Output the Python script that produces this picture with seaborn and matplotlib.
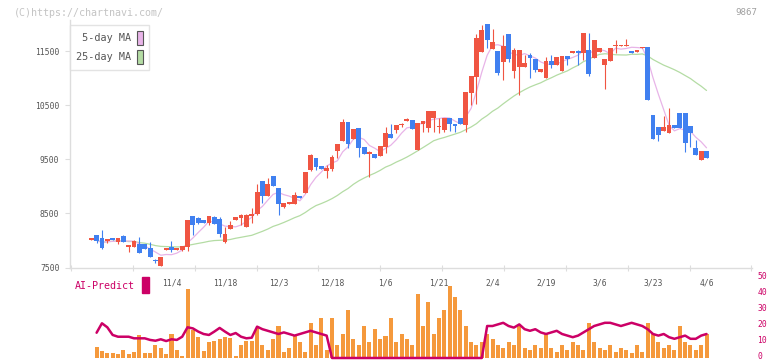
import numpy as np
import pandas as pd
import matplotlib
matplotlib.use("Agg")
import matplotlib.pyplot as plt
import matplotlib.transforms as mtrans
import seaborn as sns
from matplotlib.patches import Patch, Rectangle

# ---------------- data ----------------
opens = [8015, 8100, 8040, 7995, 8045, 7977, 8087, 7885, 7885, 7934,
         7934, 7866, 7640, 7528, 7830, 7885, 7830, 7823, 7873, 8452,
         8410, 8378, 8330, 8433, 8396, 7971, 8217, 8378, 8420, 8254,
         8452, 8490, 9104, 8822, 9190, 8970, 8624, 8680, 8673, 8822,
         8883, 9300, 9525, 9375, 9290, 9325, 9660, 9845, 10190, 9880,
         10080, 9727, 9600, 9597, 9565, 9720, 9967, 10045, 10125, 10200,
         10225, 9675, 10145, 10080, 10255, 10095, 10050, 10255, 10145, 10255,
         10130, 10730, 11030, 11490, 11995, 11540, 11500, 11305, 11815, 11140,
         11215, 11215, 11420, 11355, 11120, 11000, 11320, 11245, 11140, 11410,
         11460, 11500, 11460, 11525, 11380, 11490, 11245, 11320, 11600, 11590,
         11600, 11500, 11490, 11560, 11570, 10320, 10095, 10030, 9985, 10130,
         10355, 10355, 10115, 9710, 9490, 9655]
highs = [8030, 8100, 8190, 8030, 8050, 8040, 8100, 7900, 8014, 8070,
         7934, 7977, 7660, 7700, 7842, 7990, 7845, 7903, 8378, 8452,
         8430, 8378, 8452, 8450, 8440, 8254, 8360, 8433, 8490, 8490,
         8594, 9045, 9104, 9150, 9190, 8970, 8686, 8690, 8895, 8822,
         9267, 9600, 9525, 9375, 9395, 9580, 9785, 10250, 10190, 10060,
         10080, 9727, 9650, 9597, 9745, 10090, 10150, 10130, 10180, 10260,
         10225, 10165, 10200, 10390, 10390, 10255, 10255, 10255, 10145, 10255,
         10750, 11040, 11815, 11985, 11995, 11915, 11500, 11795, 11815, 11550,
         11525, 11430, 11460, 11355, 11170, 11400, 11420, 11400, 11410, 11410,
         11500, 11520, 11840, 11840, 11705, 11550, 11355, 11550, 11700, 11610,
         11725, 11500, 11525, 11570, 11570, 10320, 10095, 10300, 10450, 10130,
         10355, 10355, 10115, 9860, 9655, 9655]
lows = [8010, 7950, 7840, 7958, 8000, 7934, 7977, 7790, 7885, 7773,
        7842, 7700, 7580, 7528, 7830, 7780, 7830, 7810, 7805, 8100,
        8300, 8330, 8280, 8304, 8070, 7960, 8217, 8378, 8285, 8254,
        8330, 8470, 8700, 8822, 9005, 8470, 8600, 8680, 8673, 8785,
        8883, 9285, 9300, 9325, 9150, 9290, 9530, 9845, 9715, 9880,
        9550, 9597, 9167, 9530, 9565, 9620, 9900, 9985, 10090, 10200,
        10065, 9675, 10000, 10000, 10000, 9990, 10000, 10015, 10000, 10145,
        10000, 10500, 10520, 11490, 11550, 11540, 11050, 10970, 11290, 11000,
        10690, 11215, 11000, 11120, 11120, 11000, 11180, 11245, 11140, 11245,
        11460, 11240, 11340, 11040, 11380, 11490, 10800, 11320, 11470, 11590,
        11600, 11465, 11490, 11560, 10595, 9875, 9845, 10030, 9985, 10080,
        10080, 9640, 9735, 9580, 9490, 9530]
closes = [8025, 7995, 7866, 8027, 8008, 8040, 7977, 7900, 7995, 7773,
          7842, 7700, 7620, 7700, 7842, 7823, 7845, 7903, 8378, 8280,
          8330, 8330, 8452, 8304, 8119, 8119, 8285, 8433, 8470, 8470,
          8490, 8900, 8822, 9045, 9005, 8673, 8686, 8690, 8834, 8785,
          9267, 9580, 9365, 9325, 9340, 9547, 9785, 10195, 9785, 10060,
          9700, 9597, 9635, 9530, 9745, 9995, 9900, 10130, 10145, 10240,
          10065, 10165, 10200, 10390, 10390, 10115, 10255, 10160, 10110, 10145,
          10750, 11040, 11735, 11890, 11700, 11665, 11100, 11590, 11350, 11525,
          11525, 11280, 11380, 11150, 11170, 11320, 11245, 11400, 11410, 11360,
          11500, 11460, 11840, 11080, 11705, 11550, 11355, 11550, 11615, 11610,
          11615, 11465, 11525, 11570, 10595, 9875, 9950, 10095, 10130, 10080,
          10080, 9810, 9990, 9580, 9655, 9530]
volume = [np.nan, 7.1, 4.6, 3.3, 3.3, 2.5, 5.0, 2.5, 4.0, 14.4,
          3.3, 3.3, 8.1, 6.3, 2.5, 15, 5, 1.3, 43, 17.5,
          13.3, 4.6, 10.2, 10.8, 11.9, 12.9, 12.3, 1.3, 8.1, 10.6,
          10.6, 18.5, 8, 5, 12, 20, 4, 6, 14, 10,
          4, 22, 8, 25, 5, 25, 8, 15, 30, 12,
          8, 20, 10, 18, 12, 14, 25, 10, 15, 12,
          8, 40, 20, 35, 15, 25, 30, 45, 38, 30,
          20, 10, 8, 10, 15, 12, 8, 6, 10, 8,
          20, 6, 5, 8, 6, 15, 6, 4, 8, 5,
          10, 8, 5, 22, 10, 6, 5, 8, 4, 6,
          5, 3, 8, 4, 22, 15, 10, 6, 8, 5,
          20, 10, 8, 5, 8, 15]
ai_predict = [np.nan, 15.8, 21.7, 19.2, 14.4, 13.3, 13.3, 13.3, 12.3, 12.3,
              12.3, 11.3, 10.8, 11.7, 10.6, 11.7, 11.3, 13.3, 19.2, 18.5,
              16.5, 15, 14.4, 16.5, 18.8, 16.5, 14.4, 15.6, 13.3, 12.3,
              12.7, 19.6, 18, 17, 16, 15, 16, 15, 14, 15,
              16, 17, 16, 15, 14, 0, 0, 0, 0, 0,
              0, 0, 0, 0, 0, 0, 0, 0, 0, 0,
              0, 0, 0, 0, 0, 0, 0, 0, 0, 0,
              0, 0, 0, 0, 20, 20, 21, 22, 20, 19,
              21, 18, 17, 18, 16, 15, 16, 17, 15, 14,
              13, 14, 16, 18, 20, 21, 22, 22, 21, 20,
              21, 22, 21, 20, 18, 15, 14, 15, 13, 12,
              13, 14, 12, 12, 14, 15]
date_labels = ["11/4", "11/18", "12/3", "12/18", "1/6", "1/21",
               "2/4", "2/19", "3/6", "3/23", "4/6"]
price_ticks = [7500, 8500, 9500, 10500, 11500]
ai_ticks = [0, 10, 20, 30, 40, 50]

# ---------------- style ----------------
sns.set_theme(style="white")
plt.rcParams['font.family'] = ['DejaVu Sans Mono']

RED = "#f05542"
BLUE = "#4080f0"
ORANGE = "#f5993c"
CRIMSON = "#cc0066"
PINK = "#e8b4e8"
GREEN = "#b4dca4"
GRID = "#dddddd"
TXT = "#555555"

W, H = 772, 361
fig = plt.figure(figsize=(W / 100, H / 100), dpi=100)
fig.patch.set_facecolor("white")


def px(x0, y0, x1, y1):
    return [x0 / W, 1 - y1 / H, (x1 - x0) / W, (y1 - y0) / H]


ax = fig.add_axes(px(70, 20, 752, 268))
axb = fig.add_axes(px(70, 278, 752, 358))

n = len(closes)
idx = np.arange(n)
df = pd.DataFrame({"i": idx, "open": opens, "high": highs, "low": lows,
                   "close": closes, "volume": volume, "ai": ai_predict})
df["ma5"] = df["close"].rolling(5, min_periods=1).mean()
df["ma25"] = df["close"].rolling(25, min_periods=1).mean()

xmin, xmax = -3.97, 123.5

# moving averages
sns.lineplot(data=df, x="i", y="ma25", ax=ax, color=GREEN, lw=0.9, zorder=2)
sns.lineplot(data=df, x="i", y="ma5", ax=ax, color=PINK, lw=0.9, zorder=2)

# candles
up = df["close"] >= df["open"]
cols = np.where(up, RED, BLUE)
ax.vlines(df["i"], df["low"], df["high"], colors=cols, lw=0.8, zorder=3)
body_lo = np.minimum(df["open"], df["close"])
body_h = np.maximum(np.abs(df["close"] - df["open"]), 22)
ax.bar(df["i"], body_h, bottom=body_lo, width=0.9, color=cols,
       linewidth=0, zorder=4)

ax.set_xlim(xmin, xmax)
ax.set_ylim(7491, 12075)
ax.set_xlabel("")
ax.set_ylabel("")
for s in ["top", "right"]:
    ax.spines[s].set_visible(False)
for s in ["left", "bottom"]:
    ax.spines[s].set_color(GRID)
    ax.spines[s].set_linewidth(1.0)
ax.set_yticks(price_ticks)
ax.set_yticklabels([str(t) for t in price_ticks])
ax.tick_params(axis="y", length=3.6, width=0.8, color=GRID, pad=4,
               labelsize=5.8, labelcolor=TXT, left=True)
ax.set_xticks(np.arange(15, n, 10))
ax.set_xticklabels(date_labels)
ax.set_xticks(np.linspace(xmin + 0.2, xmax - 0.1, 12), minor=True)
ax.tick_params(axis="x", which="major", length=0, pad=7.5, labelsize=5.8,
               labelcolor=TXT, bottom=True)
ax.tick_params(axis="x", which="minor", length=5, width=0.8, color=GRID,
               direction="inout", bottom=True)
ax.grid(False)

handles = [Patch(facecolor=PINK, edgecolor="#555555", lw=0.8),
           Patch(facecolor=GREEN, edgecolor="#555555", lw=0.8)]
leg = ax.legend(handles, [" 5-day MA", "25-day MA"], loc="upper left",
                bbox_to_anchor=(70 / W, 1 - 25 / H),
                bbox_transform=fig.transFigure, borderaxespad=0,
                markerfirst=False, frameon=True, fancybox=False,
                handlelength=0.6, handleheight=1.75, handletextpad=0.55,
                labelspacing=0.45, borderpad=0.6,
                prop={"family": "DejaVu Sans Mono", "size": 7.3})
leg.get_frame().set_edgecolor(GRID)
leg.get_frame().set_linewidth(1.0)
for t in leg.get_texts():
    t.set_color(TXT)

# ---------------- bottom panel ----------------
axb.bar(df["i"], df["volume"], width=0.75, color=ORANGE, linewidth=0,
        zorder=2)
sns.lineplot(data=df, x="i", y="ai", ax=axb, color=CRIMSON, lw=1.8,
             zorder=3, clip_on=False)
axb.set_xlim(xmin, xmax)
axb.set_ylim(0, 50)
axb.set_xlabel("")
axb.set_ylabel("")
axb.set_xticks([])
for s in axb.spines.values():
    s.set_visible(False)
axb.yaxis.tick_right()
axb.set_yticks(ai_ticks)
axb.set_yticklabels([str(t) for t in ai_ticks])
axb.tick_params(axis="y", length=0, pad=4, labelsize=5.8,
                labelcolor=CRIMSON, right=True, left=False)
shift = mtrans.ScaledTranslation(0, 1.8 / 72, fig.dpi_scale_trans)
for lab in axb.get_yticklabels():
    lab.set_transform(lab.get_transform() + shift)
axb.patch.set_alpha(0)
axb.grid(False)

fig.text(75 / W, 1 - 286 / H, "AI-Predict", color=CRIMSON, fontsize=7.2,
         va="center", ha="left")
fig.patches.append(Rectangle((142 / W, 1 - 293 / H), 7 / W, 16 / H,
                             transform=fig.transFigure, color=CRIMSON))

fig.text(14 / W, 1 - 12.5 / H, "(C)https://chartnavi.com/", color="#c4c4c4",
         fontsize=7.2, va="center", ha="left")
fig.text(757 / W, 1 - 12.5 / H, "9867", color="#a0a0a0", fontsize=6.6,
         va="center", ha="right")

fig.savefig("out.png", dpi=100)
